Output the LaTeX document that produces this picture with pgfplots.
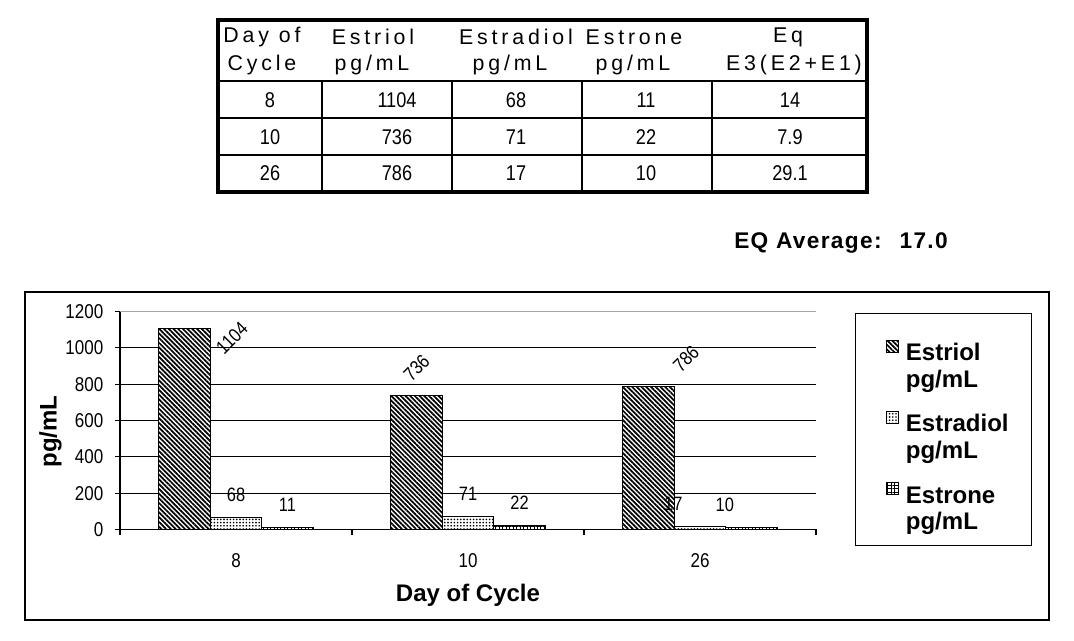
\documentclass[border=0pt]{standalone}
\usepackage{pgfplots}
\pgfplotsset{compat=1.18}
\usetikzlibrary{patterns.meta}
\usepackage{fontspec}
\setmainfont{Liberation Sans}
\newfontfamily\spaced[LetterSpace=18]{Liberation Sans}
\newfontfamily\spacedb[LetterSpace=6]{Liberation Sans}
\newfontfamily\narrow[FakeStretch=0.85]{Liberation Sans}
\newcommand\hdr{\spaced\fontsize{16}{18}\selectfont}
\newcommand\cel{\narrow\fontsize{16}{18}\selectfont}
\newcommand\tck{\narrow\fontsize{15}{17}\selectfont}
\newcommand\dlb{\narrow\fontsize{14.5}{16}\selectfont}
\newcommand\ttl{\bfseries\fontsize{18}{20}\selectfont}
\pgfplotsset{
  myleg/.style={legend image code/.code={\path (0pt,0pt) (27pt,0pt); \draw[##1] (15pt,5pt) rectangle (24pt,14pt);}},
  e3/.style={ybar, bar width=38.625pt, bar shift=-38.625pt, draw=black, line width=0.75pt, fill=white,
    postaction={pattern={Lines[angle=-45,distance=2.5pt,line width=1.3pt]}}, myleg},
  e2/.style={ybar, bar width=38.625pt, bar shift=0pt, draw=black, line width=0.75pt, fill=white,
    postaction={pattern={Dots[distance=2.4pt,radius=0.7pt]}}, myleg},
  e1/.style={ybar, bar width=38.625pt, bar shift=38.625pt, draw=black, line width=0.75pt, fill=white,
    postaction={pattern={Hatch[distance=2.6pt,line width=0.55pt]}}, myleg},
  lbl/.style={ybar, bar width=38.625pt, draw=none, fill=none, forget plot, nodes near coords,
    every node near coord/.append style={font=\dlb, text=black, anchor=center}},
}
\begin{document}
\begin{tikzpicture}
\useasboundingbox (0,0) rectangle (805.5pt,480.75pt);
\begin{scope}[shift={(0pt,480.75pt)},x=0.75pt,y=-0.75pt]
  % data table
  \draw[line width=1.1pt] (218,81) -- (867,81) (218,118) -- (867,118) (218,155) -- (867,155);
  \foreach \x in {322,452,582,712} {\draw[line width=1.1pt] (\x,81) -- (\x,192);}
  \draw[line width=2.4pt] (218,20) rectangle (867,192);
  \node[font=\hdr] at (262,37) {Day of};
  \node[font=\hdr] at (262,65) {Cycle};
  \node[font=\hdr] at (373,37) {Estriol};
  \node[font=\hdr] at (372,65) {pg/mL};
  \node[font=\hdr] at (516,37) {Estradiol};
  \node[font=\hdr] at (510,65) {pg/mL};
  \node[font=\hdr] at (634,37) {Estrone};
  \node[font=\hdr] at (633,65) {pg/mL};
  \node[font=\hdr] at (788,37) {Eq};
  \node[font=\hdr] at (794,65) {E3(E2+E1)};
  \node[font=\cel] at (270,100) {8};
  \node[font=\cel] at (397,100) {1104};
  \node[font=\cel] at (516,100) {68};
  \node[font=\cel] at (646,100) {11};
  \node[font=\cel] at (790,100) {14};
  \node[font=\cel] at (270,137) {10};
  \node[font=\cel] at (397,137) {736};
  \node[font=\cel] at (516,137) {71};
  \node[font=\cel] at (646,137) {22};
  \node[font=\cel] at (790,137) {7.9};
  \node[font=\cel] at (270,173) {26};
  \node[font=\cel] at (397,173) {786};
  \node[font=\cel] at (516,173) {17};
  \node[font=\cel] at (646,173) {10};
  \node[font=\cel] at (790,173) {29.1};
  \node[font=\spacedb\bfseries\fontsize{17}{20}\selectfont] at (841,243) {EQ Average:~ 17.0};
  % chart frame
  \draw[line width=1.1pt] (25,292) rectangle (1049,620);
\end{scope}
\begin{axis}[
  at={(90pt,83.625pt)}, anchor=south west,
  scale only axis, width=522pt, height=163.5pt,
  xmin=-0.5, xmax=2.5, ymin=0, ymax=1200,
  axis x line*=bottom, axis y line*=left,
  axis line style={line width=0.9pt, black},
  tick align=outside, major tick length=4pt,
  tick style={line width=0.9pt, black},
  xtick={-0.5,0.5,1.5,2.5}, xticklabels={},
  extra x ticks={0,1,2}, extra x tick labels={8,10,26},
  extra x tick style={major tick length=0pt},
  ytick={0,200,400,600,800,1000},
  extra y ticks={1200},
  extra y tick style={grid=major, grid style={gray!70, line width=0.6pt}},
  ymajorgrids, grid style={black, line width=0.9pt},
  tick label style={font=\tck},
  yticklabel style={xshift=-5pt},
  xticklabel style={anchor=center, yshift=-23pt},
  /pgf/number format/1000 sep={},
  /pgf/number format/assume math mode=true,
  ylabel={pg/mL}, ylabel style={font=\ttl, at={(axis description cs:-0.1,0.45)}, anchor=center},
  xlabel={Day of Cycle}, xlabel style={font=\ttl, at={(axis description cs:0.5,0)}, anchor=center, yshift=-49pt},
  legend style={at={(axis description cs:1.056,0.993)}, anchor=north west, draw=black, line width=0.9pt,
    font=\ttl, inner xsep=8pt, inner ysep=20pt, row sep=26pt, nodes={inner xsep=2pt, inner ysep=0pt}},
  legend cell align=left,
  clip=false,
]
\addplot[e3] coordinates {(0,1104) (1,736) (2,786)};
\addlegendentry{\begin{tabular}{@{}p{84pt}@{}}Estriol\\pg/mL\end{tabular}}
\addplot[e2] coordinates {(0,68) (1,71) (2,17)};
\addlegendentry{\begin{tabular}{@{}p{84pt}@{}}Estradiol\\pg/mL\end{tabular}}
\addplot[e1] coordinates {(0,11) (1,22) (2,10)};
\addlegendentry{\begin{tabular}{@{}p{84pt}@{}}Estrone\\pg/mL\end{tabular}}
% data labels
\addplot[lbl, bar shift=-38.625pt, every node near coord/.append style={xshift=-3pt, yshift=-6.75pt, rotate=45}] coordinates {(0,1104)};
\addplot[lbl, bar shift=-38.625pt, every node near coord/.append style={xshift=-38.625pt, yshift=21pt, rotate=45}] coordinates {(1,736)};
\addplot[lbl, bar shift=-38.625pt, every node near coord/.append style={xshift=-10.5pt, yshift=21pt, rotate=45}] coordinates {(2,786)};
\addplot[lbl, bar shift=0pt, every node near coord/.append style={yshift=17pt}] coordinates {(0,68) (1,71)};
\addplot[lbl, bar shift=0pt, every node near coord/.append style={xshift=-20pt, yshift=17pt}] coordinates {(2,17)};
\addplot[lbl, bar shift=38.625pt, every node near coord/.append style={xshift=38.625pt, yshift=17pt}] coordinates {(0,11) (1,22)};
\addplot[lbl, bar shift=38.625pt, every node near coord/.append style={xshift=18.6pt, yshift=17pt}] coordinates {(2,10)};
\end{axis}
\end{tikzpicture}
\end{document}
